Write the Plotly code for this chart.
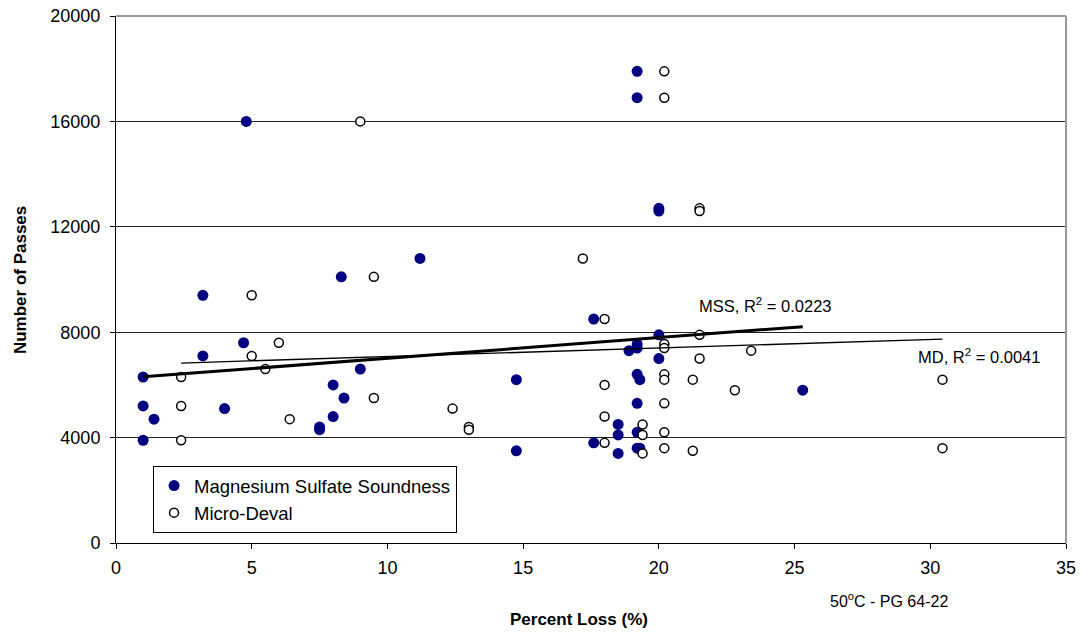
import numpy as np
import plotly.graph_objects as go

# Magnesium Sulfate Soundness (percent loss, number of passes)
mss_x = [19.2, 19.2, 4.8, 20.0, 20.0, 11.2, 8.3, 3.2, 17.6, 20.0, 4.7, 19.2, 19.2, 18.9,
         3.2, 20.0, 9.0, 19.2, 1.0, 19.3, 14.75, 8.0, 25.3, 8.4, 19.2, 1.0, 4.0, 8.0, 1.4,
         18.5, 7.5, 7.5, 19.2, 18.5, 1.0, 17.6, 19.2, 19.3, 14.75, 18.5]
mss_y = [17900, 16900, 16000, 12700, 12600, 10800, 10100, 9400, 8500, 7900, 7600, 7550, 7400, 7300,
         7100, 7000, 6600, 6400, 6300, 6200, 6200, 6000, 5800, 5500, 5300, 5200, 5100, 4800, 4700,
         4500, 4400, 4300, 4200, 4100, 3900, 3800, 3600, 3600, 3500, 3400]

# Micro-Deval
md_x = [20.2, 20.2, 9.0, 21.5, 21.5, 17.2, 9.5, 5.0, 18.0, 21.5, 6.0, 20.2, 20.2, 23.4,
        5.0, 21.5, 5.5, 20.2, 2.4, 20.2, 21.25, 30.45, 18.0, 22.8, 9.5, 20.2, 2.4, 12.4,
        18.0, 6.4, 19.4, 13.0, 13.0, 20.2, 19.4, 2.4, 18.0, 20.2, 30.45, 21.25, 19.4]
md_y = [17900, 16900, 16000, 12700, 12600, 10800, 10100, 9400, 8500, 7900, 7600, 7550, 7400, 7300,
        7100, 7000, 6600, 6400, 6300, 6200, 6200, 6200, 6000, 5800, 5500, 5300, 5200, 5100,
        4800, 4700, 4500, 4400, 4300, 4200, 4100, 3900, 3800, 3600, 3600, 3500, 3400]

# Linear trendlines as displayed on the chart (slope, intercept)
mss_trend = (78.3, 6229.0)
md_trend = (32.5, 6751.0)

x_ticks = [0, 5, 10, 15, 20, 25, 30, 35]
y_ticks = [0, 4000, 8000, 12000, 16000, 20000]

FONT = "Liberation Sans, Arial, sans-serif"


def trend_line(xs, coef):
    k, b = coef
    xx = np.array([min(xs), max(xs)], float)
    return xx, k * xx + b


fig = go.Figure()

fig.add_trace(go.Scatter(
    x=mss_x, y=mss_y, mode="markers", name="Magnesium Sulfate Soundness",
    marker=dict(size=11, color="#000080", line=dict(width=0)),
))
fig.add_trace(go.Scatter(
    x=md_x, y=md_y, mode="markers", name="Micro-Deval",
    marker=dict(size=9, color="white", line=dict(width=1.5, color="black")),
))

tx, ty = trend_line(mss_x, mss_trend)
fig.add_trace(go.Scatter(x=tx, y=ty, mode="lines", showlegend=False,
                         line=dict(color="black", width=3), hoverinfo="skip"))
tx, ty = trend_line(md_x, md_trend)
fig.add_trace(go.Scatter(x=tx, y=ty, mode="lines", showlegend=False,
                         line=dict(color="black", width=1.3), hoverinfo="skip"))

fig.update_layout(
    width=1082, height=639,
    margin=dict(l=116, r=16, t=16, b=96),
    paper_bgcolor="white", plot_bgcolor="white",
    font=dict(family=FONT, size=16, color="black"),
    showlegend=True,
    legend=dict(
        x=0.039, y=0.146, xanchor="left", yanchor="top",
        bgcolor="white", bordercolor="black", borderwidth=1,
        font=dict(size=18.5, family=FONT), itemwidth=30, tracegroupgap=0,
    ),
    xaxis=dict(
        range=[0, 35], tickvals=x_ticks, ticktext=[str(v) for v in x_ticks],
        showgrid=False, zeroline=False, showline=True, linecolor="black", linewidth=1,
        ticks="outside", ticklen=5, tickcolor="black", tickfont=dict(size=18),
        ticklabelstandoff=3, automargin=False,
    ),
    yaxis=dict(
        range=[0, 20000], tickvals=y_ticks, ticktext=[str(v) for v in y_ticks],
        showgrid=True, gridcolor="#222222", gridwidth=1, zeroline=False,
        showline=True, linecolor="black", linewidth=1,
        ticks="outside", ticklen=5, tickcolor="black", tickfont=dict(size=18),
        ticklabelstandoff=6, automargin=False,
    ),
    shapes=[
        dict(type="line", xref="paper", yref="paper", x0=0, x1=1, y0=1, y1=1,
             line=dict(color="#999999", width=2)),
        dict(type="line", xref="paper", yref="paper", x0=1, x1=1, y0=0, y1=1,
             line=dict(color="#999999", width=2)),
    ],
    annotations=[
        dict(text="<b>Percent Loss (%)</b>", x=0.487, y=-0.146, xref="paper", yref="paper",
             xanchor="center", yanchor="middle", showarrow=False, font=dict(size=17)),
        dict(text="<b>Number of Passes</b>", x=-0.101, y=0.499, xref="paper", yref="paper",
             xanchor="center", yanchor="middle", showarrow=False, textangle=-90,
             font=dict(size=17)),
        dict(text="MSS, R<sup>2</sup> = 0.0223", x=21.42, y=9030, xref="x", yref="y",
             xanchor="left", yanchor="middle", showarrow=False, font=dict(size=16.5)),
        dict(text="MD, R<sup>2</sup> = 0.0041", x=29.48, y=7100, xref="x", yref="y",
             xanchor="left", yanchor="middle", showarrow=False, font=dict(size=16.5)),
        dict(text="50<sup>o</sup>C - PG 64-22", x=0.749, y=-0.108, xref="paper", yref="paper",
             xanchor="left", yanchor="middle", showarrow=False, font=dict(size=16)),
    ],
)

fig.write_html("out.html")
